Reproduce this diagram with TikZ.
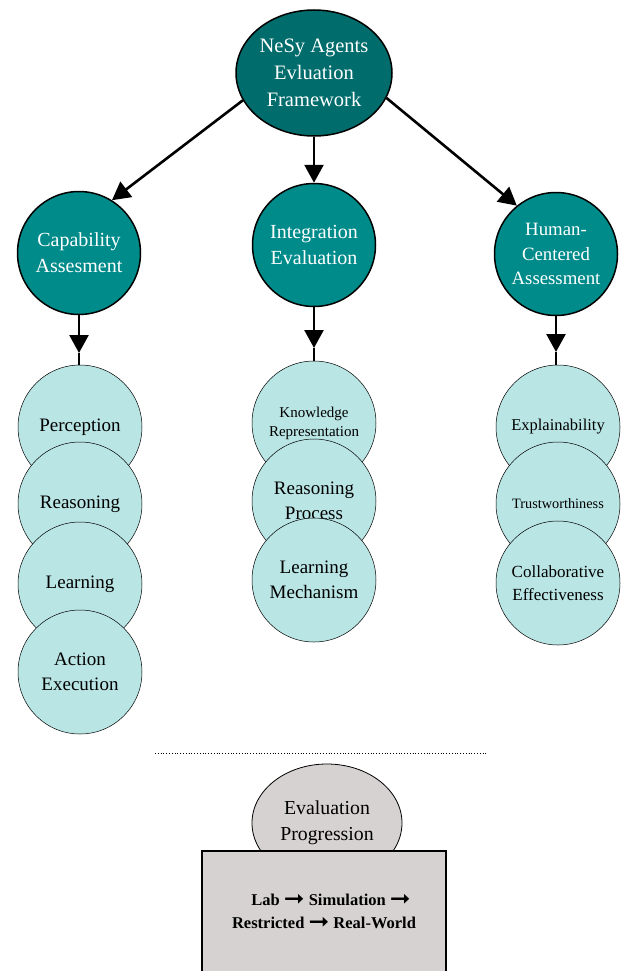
\documentclass[tikz,border=0pt]{standalone}
\usepackage{fontspec}
\setmainfont{Liberation Serif}
\newfontfamily\arrowfont{DejaVu Sans}
\usetikzlibrary{arrows.meta,shapes.geometric}
\definecolor{topteal}{RGB}{0,108,108}
\definecolor{midteal}{RGB}{0,139,139}
\definecolor{lightteal}{RGB}{185,229,228}
\definecolor{boxgray}{RGB}{214,210,210}
\newcommand{\harr}{\raisebox{-0.5pt}{\scalebox{1.5}[1.4]{\arrowfont\bfseries ➞}}}
\begin{document}
\begin{tikzpicture}[x=1pt,y=-1pt,
  topnode/.style={ellipse, draw, line width=1.5pt, fill=topteal, text=white, minimum width=156pt, minimum height=126pt, inner sep=0pt, align=center, font=\fontsize{20.5}{27}\selectfont},
  lvl/.style={circle, draw, line width=1.5pt, fill=midteal, text=white, minimum size=123pt, inner sep=0pt, align=center, font=\fontsize{20}{26}\selectfont},
  leaf/.style={circle, draw, line width=0.5pt, fill=lightteal, minimum size=124pt, inner sep=0pt, align=center, font=\fontsize{19}{25}\selectfont},
  bigarrow/.style={line width=2.6pt, -{Triangle[length=18pt,width=19pt]}},
  plain/.style={line width=2.6pt},
  smallfont/.style={font=\fontsize{15}{19}\selectfont}
]
\useasboundingbox (0,0) rectangle (622,971);
\fill[white] (0,0) rectangle (622,971);

% top
\node[topnode] (top) at (314,73) {NeSy Agents\\Evluation\\Framework};

% level 2
\node[lvl] (cap) at (79,253) {Capability\\Assesment};
\node[lvl] (int) at (314,245) {Integration\\Evaluation};
\node[lvl, font=\fontsize{18.8}{24.5}\selectfont] (hum) at (556,254) {Human-\\Centered\\Assessment};

\draw[bigarrow] (top.201) -- (cap.58);
\draw[bigarrow] (top.south) -- (int.north);
\draw[bigarrow] (top.341) -- (hum.129);

% leaves left
\node[leaf] (perc) at (80,427) {Perception};
\node[leaf] (reas) at (80,504) {Reasoning};
\node[leaf] (lear) at (80,584) {Learning};
\node[leaf] (act) at (80,672) {Action\\Execution};

% leaves middle
\node[leaf, smallfont] (know) at (314,423) {Knowledge\\Representation};
\node[leaf] (rproc) at (314,501) {Reasoning\\Process};
\node[leaf] (lmech) at (314,580) {Learning\\Mechanism};

% leaves right
\node[leaf, font=\fontsize{16.5}{22}\selectfont] (expl) at (558,427) {Explainability};
\node[leaf, font=\fontsize{14.3}{20}\selectfont] (trust) at (558,504) {Trustworthiness};
\node[leaf, font=\fontsize{17}{23}\selectfont] (coll) at (558,583) {Collaborative\\Effectiveness};

% connectors level2 -> leaves
\coordinate (tc) at (79,353);
\coordinate (ti) at (314,348);
\coordinate (th) at (556,352);
\draw[plain] (tc) -- (tc |- perc.north);
\draw[bigarrow] (cap.south) -- (tc);
\draw[plain] (ti) -- (know.north);
\draw[bigarrow] (int.south) -- (ti);
\draw[plain] (th) -- (th |- expl.north);
\draw[bigarrow] (hum.south) -- (th);

% separator
\coordinate (sepl) at (155,753);
\coordinate (sepr) at (487,753);
\draw[dotted, line width=0.8pt] (sepl) -- (sepr);

% bottom
\node[ellipse, draw, line width=0.8pt, fill=boxgray, minimum width=150pt, minimum height=118pt, inner sep=0pt, align=center, font=\fontsize{19.8}{26}\selectfont] (prog) at (327,823) {Evaluation\\Progression};
\node[rectangle, draw, line width=1.5pt, fill=boxgray, minimum width=244pt, minimum height=126pt, inner sep=0pt, align=center, font=\bfseries\fontsize{16.5}{23}\selectfont] (box) at (324,914) {\hspace*{14pt}Lab \harr{} Simulation \harr\\Restricted \harr{} Real-World\\[-18pt]};
\end{tikzpicture}
\end{document}
